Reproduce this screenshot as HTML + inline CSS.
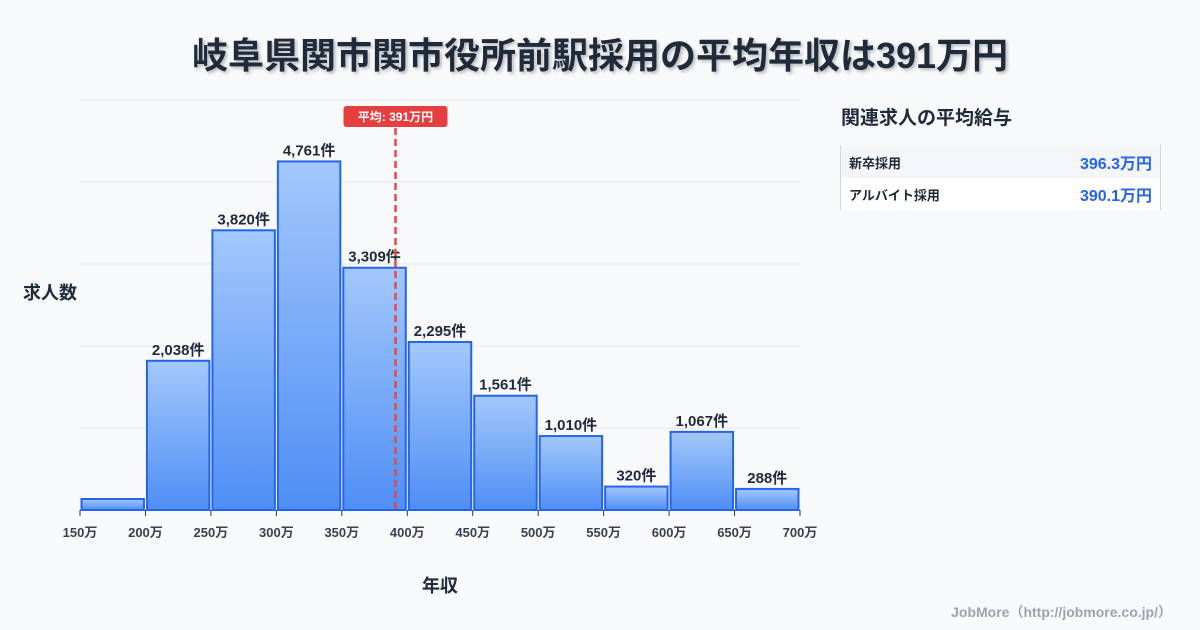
<!DOCTYPE html>
<html><head><meta charset="utf-8">
<style>
body{margin:0;width:1200px;height:630px;background:#f8f9fb;font-family:"Liberation Sans","Noto Sans CJK JP",sans-serif;overflow:hidden;position:relative;color:#1f2937}
.title{position:absolute;left:0;width:1200px;top:27px;text-align:center;font-size:36px;font-weight:bold;color:#1f2a3a;text-shadow:2px 2px 3px rgba(0,0,0,0.25)}
.side-title{position:absolute;left:841px;top:103px;font-size:19px;font-weight:bold;color:#1f2a3a}
.panel{position:absolute;left:840px;top:145px;width:319px;height:65px;border-left:1px solid #d0d6de;border-right:1px solid #d0d6de}
.row{height:32px;display:flex;justify-content:space-between;align-items:center;padding:0 8px 0 8px;font-size:13px;font-weight:bold}
.row .v{color:#2563eb;font-size:16px}
.foot{position:absolute;right:28px;top:602px;font-size:14px;color:#9ca3af;font-weight:bold}
</style></head><body>
<div class="title">岐阜県関市関市役所前駅採用の平均年収は391万円</div>
<svg id="chart" width="1200" height="630" style="position:absolute;left:0;top:0">
<defs><linearGradient id="g" x1="0" y1="0" x2="0" y2="1"><stop offset="0" stop-color="#a3c8fb"/><stop offset="1" stop-color="#4f8ef5"/></linearGradient></defs>
</svg>
<div class="side-title">関連求人の平均給与</div>
<div class="panel">
<div class="row" style="background:#f3f5f8;margin-top:1px"><span>新卒採用</span><span class="v">396.3万円</span></div>
<div class="row" style="background:#fff"><span>アルバイト採用</span><span class="v">390.1万円</span></div>
</div>
<div class="foot">JobMore（http://jobmore.co.jp/）</div>
<script>
const binStarts=[150,200,250,300,350,400,450,500,550,600,650];
const counts=[150,2038,3820,4761,3309,2295,1561,1010,320,1067,288];
const labels=["","2,038件","3,820件","4,761件","3,309件","2,295件","1,561件","1,010件","320件","1,067件","288件"];
const xTicks=[150,200,250,300,350,400,450,500,550,600,650,700];
const meanValue=391;
const NS="http://www.w3.org/2000/svg";
const svg=document.getElementById('chart');
const x=v=>80+(v-150)/550*720;
const y=v=>510-v/5600*410;
function mk(t,a){const e=document.createElementNS(NS,t);for(const k in a)e.setAttribute(k,a[k]);svg.appendChild(e);return e;}
for(let i=0;i<6;i++){const g=mk('line',{x1:80,x2:800,y1:100+82*i,y2:100+82*i,stroke:'#e5e7eb','stroke-width':1});

}
counts.forEach((c,i)=>{
const x0=x(binStarts[i])+1.5,x1=x(binStarts[i]+50)-1.5;
const r=mk('rect',{x:x0,y:y(c),width:x1-x0,height:510-y(c),fill:'url(#g)',stroke:'#2563eb','stroke-width':2});


if(labels[i]){const t=mk('text',{x:(x0+x1)/2,y:y(c)-6,'text-anchor':'middle','font-size':15,'font-weight':'bold',fill:'#1f2a3a'});t.textContent=labels[i];

}
});
xTicks.forEach(v=>{
const l=mk('line',{x1:x(v),x2:x(v),y1:510,y2:516,stroke:'#333','stroke-width':1});


const t=mk('text',{x:x(v),y:537,'text-anchor':'middle','font-size':13,'font-weight':'bold',fill:'#374151'});t.textContent=v+'万';


});
const ml=mk('line',{x1:x(meanValue),x2:x(meanValue),y1:128,y2:510,stroke:'#ef4444','stroke-width':2.5,'stroke-dasharray':'7,4'});


const mb=mk('rect',{x:x(meanValue)-52,y:106,width:104,height:21,rx:3,fill:'#e53e3e'});


const mt=mk('text',{x:x(meanValue),y:121,'text-anchor':'middle','font-size':12,'font-weight':'bold',fill:'#fff'});mt.textContent='平均: '+meanValue+'万円';


const yt=mk('text',{x:50,y:299,'text-anchor':'middle','font-size':18,'font-weight':'bold',fill:'#1f2a3a'});yt.textContent='求人数';


const xt=mk('text',{x:440,y:592,'text-anchor':'middle','font-size':18,'font-weight':'bold',fill:'#1f2a3a'});xt.textContent='年収';


</script>
</body></html>
